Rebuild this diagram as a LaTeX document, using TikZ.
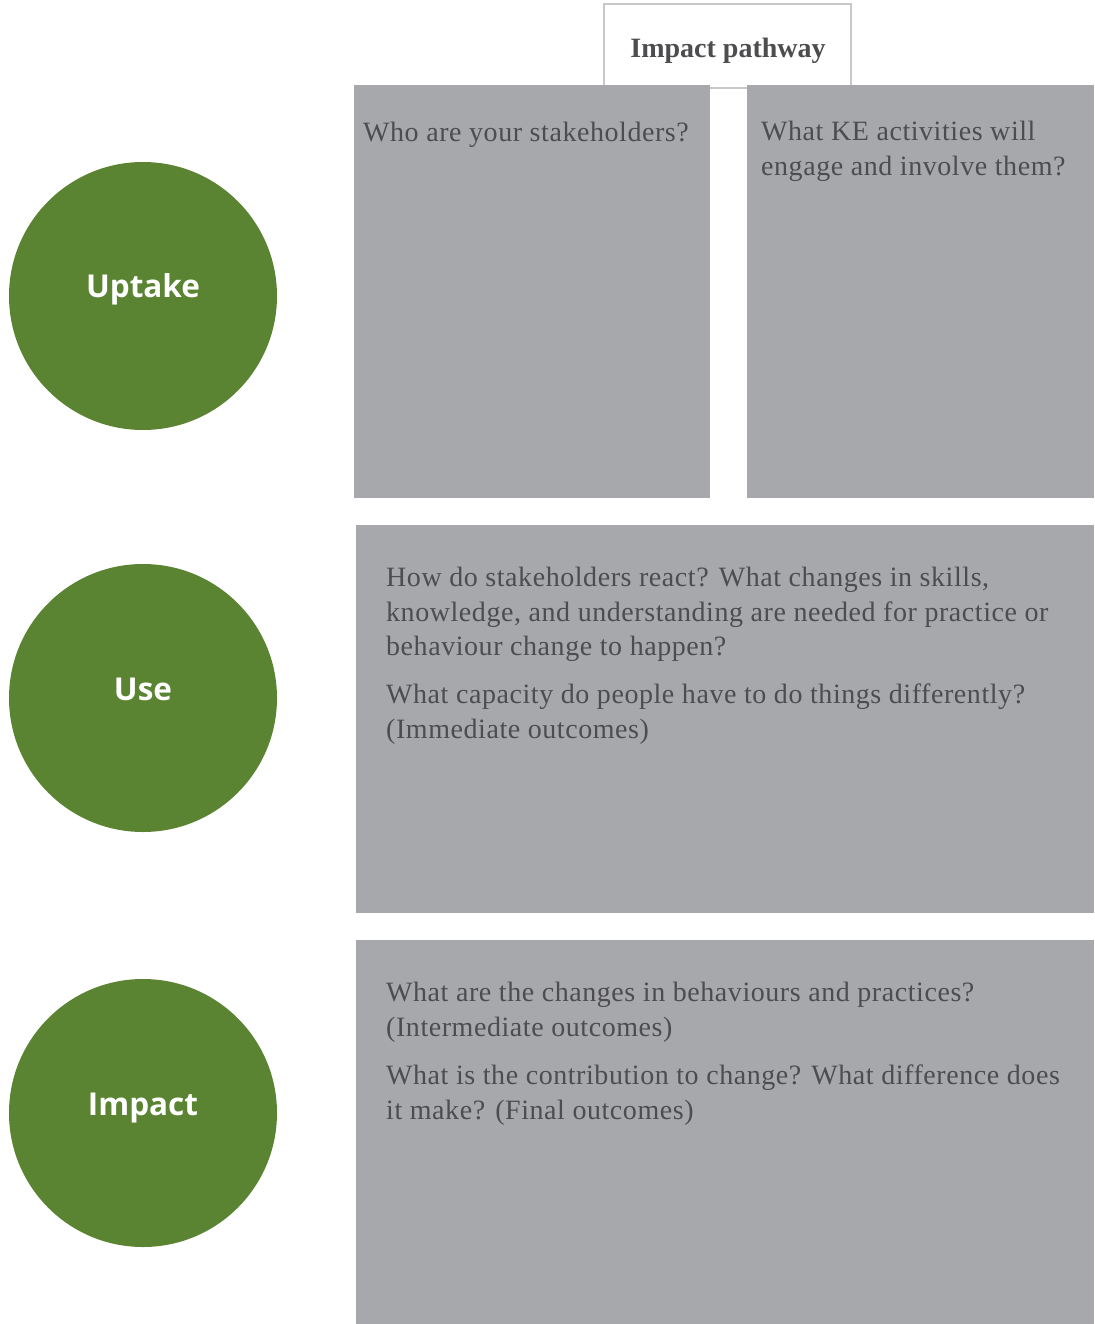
\documentclass[tikz,border=0pt]{standalone}
\usepackage{fontspec}
\setmainfont{Liberation Serif}
\newfontfamily\circfont{Open Sans}
\newfontfamily\qfont[LetterSpace=2]{Liberation Serif}
\definecolor{leaf}{HTML}{5A8431}
\definecolor{panel}{HTML}{A7A8AB}
\definecolor{ink}{HTML}{4D4D4F}
\definecolor{frame}{HTML}{C8C8C8}
\tikzset{
  stage/.style={circle, fill=leaf, minimum size=268pt, inner sep=0pt, text=white, font=\circfont\bfseries\fontsize{31.5}{38}\selectfont},
  panelbox/.style={fill=panel, draw=none},
  qtext/.style={anchor=north west, inner sep=0pt, align=left, text=ink, font=\qfont\fontsize{28}{34.5}\selectfont},
  headbox/.style={draw=frame, line width=1.2pt, fill=white}
}
\begin{document}
\begin{tikzpicture}[x=1pt,y=-1pt]
\useasboundingbox (0,0) rectangle (1094,1324);
% header
\draw[headbox] (604,4) rectangle (851,88);
\node[text=ink, font=\bfseries\fontsize{28}{32}\selectfont] (head) at (728,51) {Impact pathway};
% panels
\fill[panelbox] (354,85) rectangle (710,498) coordinate (pa);
\fill[panelbox] (747,85) rectangle (1094,498) coordinate (pb);
\fill[panelbox] (356,525) rectangle (1094,913) coordinate (pc);
\fill[panelbox] (356,940) rectangle (1094,1324) coordinate (pd);
% texts
\node[qtext] (ta) at (363,122) {Who are your stakeholders?};
\node[qtext] (tb) at (761,121) {What KE activities will\\engage and involve them?};
\node[qtext] (tc1) at (386,567) {How do stakeholders react? What changes in skills,\\knowledge, and understanding are needed for practice or\\behaviour change to happen?};
\node[qtext] (tc2) at (386,684) {What capacity do people have to do things differently?\\(Immediate outcomes)};
\node[qtext] (td1) at (386,982) {What are the changes in behaviours and practices?\\(Intermediate outcomes)};
\node[qtext] (td2) at (386,1065) {What is the contribution to change? What difference does\\it make? (Final outcomes)};
% circles
\node[stage] (uptake) at (143,296) {\raisebox{20pt}{Uptake}};
\node[stage] (use) at (143,698) {\raisebox{17pt}{Use}};
\node[stage] (impact) at (143,1113) {\raisebox{17pt}{Impact}};
\end{tikzpicture}
\end{document}
